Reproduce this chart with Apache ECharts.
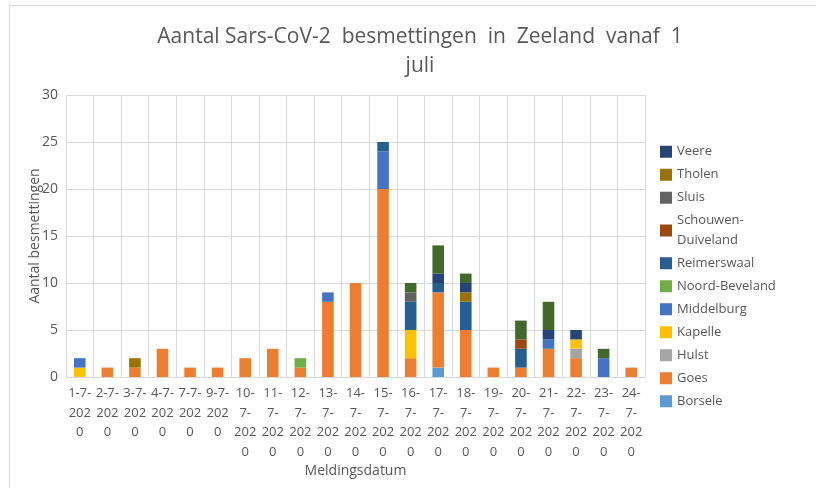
<!DOCTYPE html>
<html>
<head>
<meta charset="utf-8">
<script src="https://cdn.jsdelivr.net/npm/echarts@6/dist/echarts.min.js"></script>
<style>
    html, body { margin: 0; padding: 0; background: #fff; }
    #BarZeeland { width: 816px; height: 488px; }
</style>
</head>
<body>
<div id="BarZeeland"></div>
<script>
// meldingsdatum
var dates = ["1-7-2020", "2-7-2020", "3-7-2020", "4-7-2020", "7-7-2020", "9-7-2020",
    "10-7-2020", "11-7-2020", "12-7-2020", "13-7-2020", "14-7-2020", "15-7-2020",
    "16-7-2020", "17-7-2020", "18-7-2020", "19-7-2020", "20-7-2020", "21-7-2020",
    "22-7-2020", "23-7-2020", "24-7-2020"];
// labels zoals ze in de grafiek afgebroken worden
var dateLabels = ["1-7-\n202\n0", "2-7-\n202\n0", "3-7-\n202\n0", "4-7-\n202\n0", "7-7-\n202\n0", "9-7-\n202\n0",
    "10-\n7-\n202\n0", "11-\n7-\n202\n0", "12-\n7-\n202\n0", "13-\n7-\n202\n0", "14-\n7-\n202\n0", "15-\n7-\n202\n0",
    "16-\n7-\n202\n0", "17-\n7-\n202\n0", "18-\n7-\n202\n0", "19-\n7-\n202\n0", "20-\n7-\n202\n0", "21-\n7-\n202\n0",
    "22-\n7-\n202\n0", "23-\n7-\n202\n0", "24-\n7-\n202\n0"];
var yTicks = [0, 5, 10, 15, 20, 25, 30];

// besmettingen per gemeente, per datum
var borsele       = [0, 0, 0, 0, 0, 0, 0, 0, 0, 0, 0, 0, 0, 1, 0, 0, 0, 0, 0, 0, 0];
var goes          = [0, 1, 1, 3, 1, 1, 2, 3, 1, 8, 10, 20, 2, 8, 5, 1, 1, 3, 2, 0, 1];
var hulst         = [0, 0, 0, 0, 0, 0, 0, 0, 0, 0, 0, 0, 0, 0, 0, 0, 0, 0, 1, 0, 0];
var kapelle       = [1, 0, 0, 0, 0, 0, 0, 0, 0, 0, 0, 0, 3, 0, 0, 0, 0, 0, 1, 0, 0];
var middelburg    = [1, 0, 0, 0, 0, 0, 0, 0, 0, 1, 0, 4, 0, 0, 0, 0, 0, 1, 0, 2, 0];
var noordBeveland = [0, 0, 0, 0, 0, 0, 0, 0, 1, 0, 0, 0, 0, 0, 0, 0, 0, 0, 0, 0, 0];
var reimerswaal   = [0, 0, 0, 0, 0, 0, 0, 0, 0, 0, 0, 1, 3, 1, 3, 0, 2, 0, 0, 0, 0];
var schouwen      = [0, 0, 0, 0, 0, 0, 0, 0, 0, 0, 0, 0, 0, 0, 0, 0, 1, 0, 0, 0, 0];
var sluis         = [0, 0, 0, 0, 0, 0, 0, 0, 0, 0, 0, 0, 1, 0, 0, 0, 0, 0, 0, 0, 0];
var tholen        = [0, 0, 1, 0, 0, 0, 0, 0, 0, 0, 0, 0, 0, 0, 1, 0, 0, 0, 0, 0, 0];
var veere         = [0, 0, 0, 0, 0, 0, 0, 0, 0, 0, 0, 0, 0, 1, 1, 0, 0, 1, 1, 0, 0];
var vlissingen    = [0, 0, 0, 0, 0, 0, 0, 0, 0, 0, 0, 0, 1, 3, 1, 0, 2, 3, 0, 1, 0];

var seriesInfo = [
    { name: "Borsele", data: borsele, color: "#5B9BD5" },
    { name: "Goes", data: goes, color: "#ED7D31" },
    { name: "Hulst", data: hulst, color: "#A5A5A5" },
    { name: "Kapelle", data: kapelle, color: "#FFC000" },
    { name: "Middelburg", data: middelburg, color: "#4472C4" },
    { name: "Noord-Beveland", data: noordBeveland, color: "#70AD47" },
    { name: "Reimerswaal", data: reimerswaal, color: "#255E91" },
    { name: "Schouwen-Duiveland", data: schouwen, color: "#9E480E" },
    { name: "Sluis", data: sluis, color: "#636363" },
    { name: "Tholen", data: tholen, color: "#997300" },
    { name: "Veere", data: veere, color: "#264478" },
    { name: "Vlissingen", data: vlissingen, color: "#43682B" }
];

// legenda is in het origineel afgekapt: Vlissingen staat er niet in
var legendNames = ["Veere", "Tholen", "Sluis", "Schouwen-Duiveland", "Reimerswaal",
    "Noord-Beveland", "Middelburg", "Kapelle", "Hulst", "Goes", "Borsele"];

var font = "'Open Sans', Lato, sans-serif";
var textColor = "#595959";
var gridColor = "#D9D9D9";

var series = [];
seriesInfo.forEach(function (s) {
    series.push({
        name: s.name,
        type: "bar",
        stack: "totaal",
        barWidth: "42%",
        data: s.data,
        itemStyle: { color: s.color },
        emphasis: { disabled: true }
    });
});

var chart = echarts.init(document.getElementById("BarZeeland"));
chart.setOption({
    animation: false,
    backgroundColor: "#fff",
    textStyle: { fontFamily: font },
    graphic: [{
        type: "rect",
        shape: { x: 9.5, y: 5.5, width: 830, height: 500 },
        style: { fill: "none", stroke: gridColor, lineWidth: 1 },
        silent: true
    }],
    title: {
        text: "Aantal Sars-CoV-2  besmettingen  in  Zeeland  vanaf  1\njuli",
        left: 420,
        top: 23,
        padding: 0,
        textAlign: "center",
        textStyle: {
            fontFamily: font,
            fontSize: 21,
            fontWeight: "normal",
            color: textColor,
            lineHeight: 29
        }
    },
    legend: {
        data: legendNames,
        orient: "vertical",
        left: 660,
        top: 142,
        padding: 0,
        icon: "rect",
        itemWidth: 12,
        itemHeight: 12,
        itemGap: 3.5,
        formatter: function (name) {
            return name === "Schouwen-Duiveland" ? "Schouwen-\nDuiveland" : name;
        },
        textStyle: {
            fontFamily: font,
            fontSize: 13,
            color: textColor,
            lineHeight: 19.5
        },
        selectedMode: false
    },
    grid: {
        left: 66,
        right: 171,
        top: 95,
        bottom: 111,
        containLabel: false
    },
    xAxis: {
        type: "category",
        data: dates,
        name: "Meldingsdatum",
        nameLocation: "middle",
        nameGap: 87,
        nameMoveOverlap: false,
        nameTextStyle: { fontFamily: font, fontSize: 14, color: textColor },
        axisLine: { show: true, lineStyle: { color: gridColor } },
        axisTick: { show: false },
        splitLine: { show: true, lineStyle: { color: gridColor } },
        axisLabel: {
            interval: 0,
            fontFamily: font,
            fontSize: 13,
            color: textColor,
            lineHeight: 19.5,
            margin: 7,
            formatter: function (value, index) {
                return dateLabels[index];
            }
        }
    },
    yAxis: {
        type: "value",
        min: yTicks[0],
        max: yTicks[yTicks.length - 1],
        interval: yTicks[1] - yTicks[0],
        name: "Aantal besmettingen",
        nameLocation: "middle",
        nameGap: 24,
        nameMoveOverlap: false,
        nameTextStyle: { fontFamily: font, fontSize: 14, color: textColor },
        axisLine: { show: true, lineStyle: { color: gridColor } },
        axisTick: { show: false },
        splitLine: { show: true, lineStyle: { color: gridColor } },
        axisLabel: {
            fontFamily: font,
            fontSize: 14,
            color: textColor,
            margin: 8
        }
    },
    series: series
});
</script>
</body>
</html>
